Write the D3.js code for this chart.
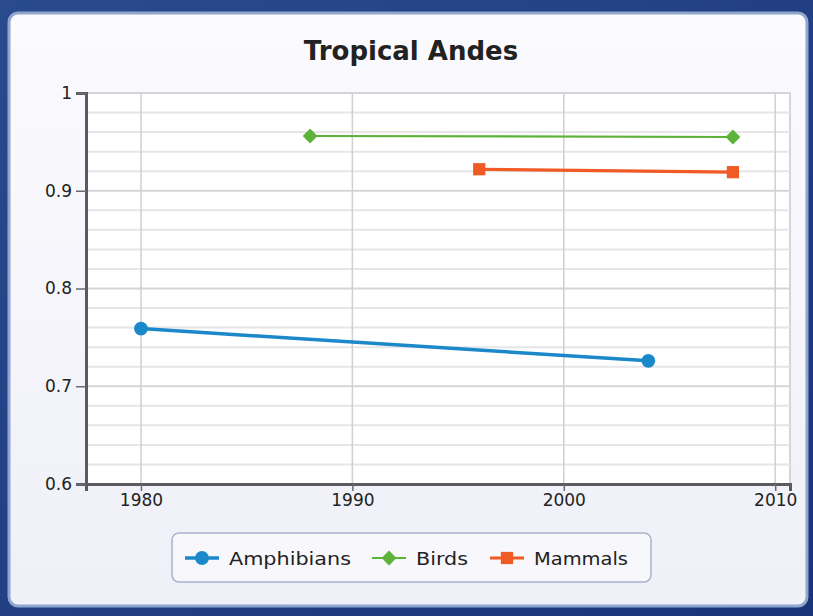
<!DOCTYPE html>
<html>
<head>
<meta charset="utf-8">
<script src="https://cdn.jsdelivr.net/npm/d3@7"></script>
<style>
  html, body { margin: 0; padding: 0; background: #213f82; }
  svg { display: block; }
  text { font-family: "DejaVu Sans", sans-serif; fill: #222; }
</style>
</head>
<body>
<svg id="chart"></svg>
<script>
// data
const seriesNames = ["Amphibians", "Birds", "Mammals"]
const seriesColors = ["#1a88c9", "#5cb338", "#f05a24"]
const amphibians = [[1980, 0.759], [2004, 0.726]]
const birds = [[1988, 0.956], [2008, 0.955]]
const mammals = [[1996, 0.922], [2008, 0.919]]
const xTicks = [1980, 1990, 2000, 2010]
const yTicks = [0.6, 0.7, 0.8, 0.9, 1]

const W = 813, H = 616
const margin = { left: 86, right: 23, top: 93, bottom: 132 }

const svg = d3.select("#chart").attr("width", W).attr("height", H)

const defs = svg.append("defs")
const bg = defs.append("linearGradient").attr("id", "bg").attr("x1", 0).attr("y1", 0).attr("x2", 1).attr("y2", 1)
bg.append("stop").attr("offset", "0%").attr("stop-color", "#2a4a8e")
bg.append("stop").attr("offset", "100%").attr("stop-color", "#1a347a")
const panel = defs.append("linearGradient").attr("id", "panel").attr("x1", 0).attr("y1", 0).attr("x2", 0).attr("y2", 1)
panel.append("stop").attr("offset", "0%").attr("stop-color", "#fbfbfe")
panel.append("stop").attr("offset", "100%").attr("stop-color", "#eff0f8")

svg.append("rect").attr("width", W).attr("height", H).attr("fill", "url(#bg)")
svg.append("rect")
  .attr("x", 9).attr("y", 13).attr("width", 798).attr("height", 593)
  .attr("rx", 9)
  .attr("fill", "url(#panel)")
  .attr("stroke", "#8fa6cf").attr("stroke-width", 3)

svg.append("text")
  .attr("x", 411).attr("y", 60)
  .attr("text-anchor", "middle")
  .attr("font-size", 26).attr("font-weight", "bold")
  .text("Tropical Andes")

const x = d3.scaleLinear().domain([1977.4, 2010.7]).range([margin.left, W - margin.right])
const y = d3.scaleLinear().domain([0.6, 1]).range([H - margin.bottom, margin.top])

const plot = svg.append("g")
plot.append("rect")
  .attr("x", x.range()[0]).attr("y", y.range()[1])
  .attr("width", x.range()[1] - x.range()[0])
  .attr("height", y.range()[0] - y.range()[1])
  .attr("fill", "#fff")
  .attr("stroke", "#c8c8cc").attr("stroke-width", 1.5)

// minor horizontal grid every 0.02
plot.append("g").selectAll("line")
  .data(d3.range(0.62, 1.0, 0.02))
  .enter().append("line")
  .attr("x1", x.range()[0]).attr("x2", x.range()[1])
  .attr("y1", d => y(d)).attr("y2", d => y(d))
  .attr("stroke", "#e6e6e8").attr("stroke-width", 2)

plot.append("g").selectAll("line")
  .data(yTicks)
  .enter().append("line")
  .attr("x1", x.range()[0]).attr("x2", x.range()[1])
  .attr("y1", d => y(d)).attr("y2", d => y(d))
  .attr("stroke", "#d4d4d8").attr("stroke-width", 1.5)

plot.append("g").selectAll("line")
  .data(xTicks)
  .enter().append("line")
  .attr("x1", d => x(d)).attr("x2", d => x(d))
  .attr("y1", y.range()[0]).attr("y2", y.range()[1])
  .attr("stroke", "#d0d0d4").attr("stroke-width", 1.5)

// axes
const xAxis = svg.append("g")
  .attr("transform", "translate(0," + y.range()[0] + ")")
  .call(d3.axisBottom(x).tickValues(xTicks).tickFormat(d3.format("d")).tickSizeOuter(0).tickSize(7).tickPadding(3))
const yAxis = svg.append("g")
  .attr("transform", "translate(" + x.range()[0] + ",0)")
  .call(d3.axisLeft(y).tickValues(yTicks).tickFormat(d => d === 1 ? "1" : d3.format(".1f")(d)).tickSizeOuter(0).tickSize(10).tickPadding(4))

;[xAxis, yAxis].forEach(a => {
  a.select(".domain").attr("stroke", "#5a5a60").attr("stroke-width", 3)
  a.selectAll(".tick line").attr("stroke", "#6a6a70").attr("stroke-width", 1.5)
  a.selectAll("text").attr("font-size", 17).attr("fill", "#333")
    .attr("font-family", "DejaVu Sans, sans-serif")
})

// series
const line = d3.line().x(d => x(d[0])).y(d => y(d[1]))
const allSeries = [amphibians, birds, mammals]
const markers = [d3.symbolCircle, d3.symbolDiamond2 || d3.symbolDiamond, d3.symbolSquare]
const markerSizes = [150, 140, 150]
const lineWidths = [3.5, 2.2, 3.2]

allSeries.forEach((s, i) => {
  svg.append("path")
    .datum(s)
    .attr("d", line)
    .attr("fill", "none")
    .attr("stroke", seriesColors[i])
    .attr("stroke-width", lineWidths[i])
  svg.append("g").selectAll("path")
    .data(s)
    .enter().append("path")
    .attr("transform", d => "translate(" + x(d[0]) + "," + y(d[1]) + ")")
    .attr("d", d3.symbol().type(markers[i]).size(markerSizes[i]))
    .attr("fill", seriesColors[i])
})

// legend
const legend = svg.append("g")
legend.append("rect")
  .attr("x", 172).attr("y", 533).attr("width", 479).attr("height", 49)
  .attr("rx", 7)
  .attr("fill", "#f7f7fc")
  .attr("stroke", "#a9b3cc").attr("stroke-width", 1.5)

const legendX = [185, 372, 490]
const legendTextW = [122, 52, 94]
seriesNames.forEach((name, i) => {
  const g = legend.append("g").attr("transform", "translate(" + legendX[i] + ",558)")
  g.append("line").attr("x1", 0).attr("x2", 34)
    .attr("stroke", seriesColors[i]).attr("stroke-width", lineWidths[i])
  g.append("path").attr("transform", "translate(17,0)")
    .attr("d", d3.symbol().type(markers[i]).size(markerSizes[i]))
    .attr("fill", seriesColors[i])
  g.append("text").attr("x", 44).attr("y", 7)
    .attr("font-size", 18)
    .attr("textLength", legendTextW[i])
    .attr("lengthAdjust", "spacingAndGlyphs")
    .text(name)
})
</script>
</body>
</html>
